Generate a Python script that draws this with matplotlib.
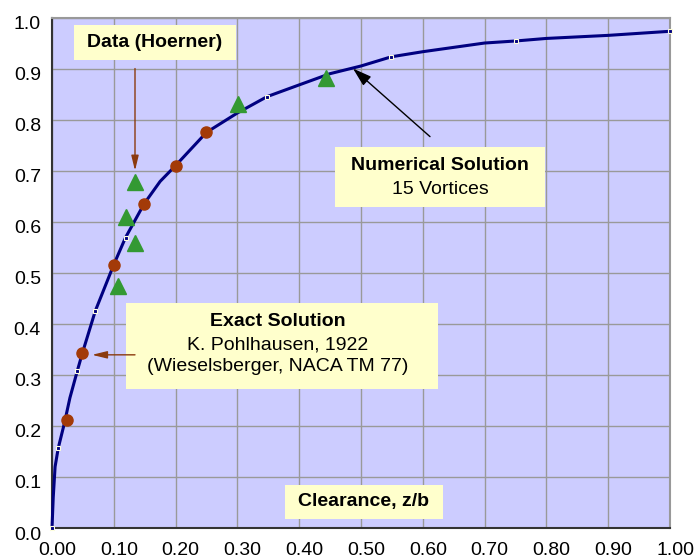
import matplotlib
matplotlib.use("Agg")
import matplotlib.pyplot as plt
from matplotlib.patches import Rectangle
from matplotlib.transforms import ScaledTranslation

# ---- data ----
curve_x = [0.0, 0.002, 0.005, 0.010, 0.020, 0.029, 0.041, 0.049, 0.070, 0.100, 0.119,
           0.149, 0.175, 0.200, 0.250, 0.300, 0.348, 0.400, 0.450, 0.500, 0.549,
           0.600, 0.700, 0.750, 0.800, 0.900, 1.000]
curve_y = [0.0, 0.060, 0.120, 0.156, 0.205, 0.255, 0.308, 0.342, 0.425, 0.516, 0.569,
           0.635, 0.679, 0.710, 0.775, 0.813, 0.845, 0.868, 0.890, 0.905, 0.923,
           0.933, 0.950, 0.954, 0.959, 0.965, 0.973]
curve_marker_idx = [0, 3, 6, 8, 10, 16, 20, 23, 26]

exact_x = [0.024, 0.049, 0.100, 0.149, 0.200, 0.249]
exact_y = [0.212, 0.342, 0.516, 0.635, 0.710, 0.775]

hoerner_x = [0.106, 0.120, 0.134, 0.134, 0.301, 0.443]
hoerner_y = [0.474, 0.610, 0.559, 0.678, 0.831, 0.882]

xticks = [0.0, 0.1, 0.2, 0.3, 0.4, 0.5, 0.6, 0.7, 0.8, 0.9, 1.0]
xticklabels = ["0.00", "0.10", "0.20", "0.30", "0.40", "0.50", "0.60", "0.70", "0.80", "0.90", "1.00"]
yticks = [0.0, 0.1, 0.2, 0.3, 0.4, 0.5, 0.6, 0.7, 0.8, 0.9, 1.0]
yticklabels = ["0.0", "0.1", "0.2", "0.3", "0.4", "0.5", "0.6", "0.7", "0.8", "0.9", "1.0"]

# ---- style ----
plt.rcParams['font.family'] = ['Liberation Sans', 'DejaVu Sans']
FS = 14
BOX = '#FFFFCC'
BROWN = '#8B3A0E'

fig = plt.figure(figsize=(6.96, 5.59), dpi=100)
ax = fig.add_axes([52/696, 1-528/559, (670-52)/696, (528-17.5)/559])
ax.set_facecolor('#CCCCFF')
ax.set_xlim(0, 1)
ax.set_ylim(0, 1)

ax.set_xticks(xticks)
ax.set_xticklabels(xticklabels, fontsize=FS)
ax.set_yticks(yticks)
ax.set_yticklabels(yticklabels, fontsize=FS)
ax.tick_params(axis='x', length=0, pad=10)
ax.tick_params(axis='y', length=0, pad=8)
for lab in ax.get_xticklabels():
    lab.set_transform(lab.get_transform() + ScaledTranslation(0.05, 0, fig.dpi_scale_trans))
for lab in ax.get_yticklabels():
    lab.set_transform(lab.get_transform() + ScaledTranslation(0, -0.05, fig.dpi_scale_trans))

ax.grid(True, color='#999999', lw=1.0, zorder=0)
ax.set_axisbelow(True)
for s in ['left', 'bottom']:
    ax.spines[s].set_color('#333333')
    ax.spines[s].set_linewidth(1.5)
for s in ['top', 'right']:
    ax.spines[s].set_color('#999999')
    ax.spines[s].set_linewidth(1.5)

# curve
ax.plot(curve_x, curve_y, color='#000080', lw=2.2, zorder=3, clip_on=False)
ax.plot([curve_x[i] for i in curve_marker_idx], [curve_y[i] for i in curve_marker_idx],
        ls='none', marker='s', ms=3.2, mfc='#000080', mec='#FFFFDD', mew=0.8,
        zorder=4, clip_on=False)

# data markers
ax.plot(exact_x, exact_y, ls='none', marker='o', ms=8, color='#A33A08', mec='#A33A08', zorder=5)
ax.plot(hoerner_x, hoerner_y, ls='none', marker='^', ms=12, color='#339933', mec='#339933', zorder=5)

def px(x, y):
    return ((x - 52) / 618, (528 - y) / 510)

def box(x0, y0, x1, y1):
    a = px(x0, y1)
    b = px(x1, y0)
    ax.add_patch(Rectangle(a, b[0]-a[0], b[1]-a[1], facecolor=BOX, edgecolor='none', zorder=6))

def txt(x, y, s, bold=False):
    ax.text(*px(x, y), s, ha='center', va='center', fontsize=FS,
            fontweight='bold' if bold else 'normal', color='black', zorder=7)

# Data (Hoerner)
box(74, 25, 236, 60)
txt(155, 43, "Data (Hoerner)", bold=True)
ax.annotate('', xy=px(135, 171), xytext=px(135, 69),
            arrowprops=dict(arrowstyle='-|>,head_length=0.9,head_width=0.22', color=BROWN,
                            lw=1.0, shrinkA=0, shrinkB=0, mutation_scale=10), zorder=8)

# Numerical solution
box(335, 147, 545, 207)
txt(440, 166, "Numerical Solution", bold=True)
txt(440, 190, "15 Vortices")
ax.annotate('', xy=px(353, 69), xytext=px(430, 137),
            arrowprops=dict(arrowstyle='-|>,head_length=1.15,head_width=0.36', color='black',
                            lw=1.0, shrinkA=0, shrinkB=0, mutation_scale=10), zorder=8)

# Exact solution
box(126, 303, 438, 389)
txt(278, 322, "Exact Solution", bold=True)
txt(278, 345, "K. Pohlhausen, 1922")
txt(278, 367, "(Wieselsberger, NACA TM 77)")
ax.annotate('', xy=px(92, 355), xytext=px(135, 355),
            arrowprops=dict(arrowstyle='-|>,head_length=0.9,head_width=0.22', color=BROWN,
                            lw=1.0, shrinkA=0, shrinkB=0, mutation_scale=10), zorder=8)

# Clearance label
box(285, 485, 443, 519)
txt(364, 502, "Clearance, z/b", bold=True)

fig.savefig('out.png', dpi=100)
